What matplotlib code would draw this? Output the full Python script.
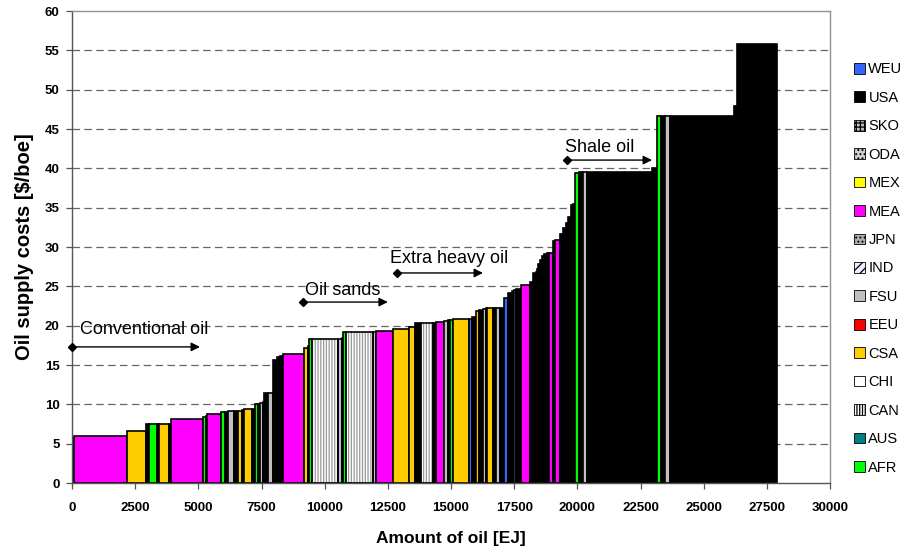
import numpy as np
import matplotlib
matplotlib.use("Agg")
import matplotlib.pyplot as plt
from matplotlib.patches import Patch

plt.rcParams['font.family'] = ['Liberation Sans', 'DejaVu Sans']
plt.rcParams['hatch.linewidth'] = 0.9

# ---------------- data ----------------
regions = ["AFR", "MEA", "CSA", "USA", "AFR", "USA", "CSA", "USA", "MEA", "AFR",
           "USA", "MEA", "USA", "AFR", "USA", "FSU", "USA", "CSA", "USA", "CSA",
           "USA", "AFR", "USA", "FSU", "USA", "USA", "FSU", "USA", "USA", "USA",
           "MEA", "CSA", "USA", "AFR", "CAN", "FSU", "USA", "AFR", "CAN", "FSU",
           "MEA", "CSA", "CSA", "USA", "CAN", "USA", "MEA", "FSU", "USA", "AFR",
           "CSA", "WEU", "USA", "CSA", "USA", "FSU", "USA", "CSA", "USA", "FSU",
           "USA", "WEU", "USA", "USA", "CHI", "USA", "MEA", "USA", "USA", "FSU",
           "USA", "USA", "USA", "USA", "USA", "WEU", "USA", "MEA", "USA", "MEA",
           "USA", "USA", "USA", "USA", "USA", "USA", "AFR", "USA", "FSU", "USA",
           "USA", "AFR", "USA", "FSU", "USA", "USA", "USA"]

amounts = [60, 2105, 750, 145, 315, 55, 420, 70, 1250, 120,
           40, 555, 20, 150, 135, 220, 175, 130, 105, 290,
           135, 130, 65, 115, 45, 145, 225, 130, 150, 115,
           815, 175, 35, 120, 1030, 160, 40, 120, 1040, 150,
           650, 630, 245, 225, 500, 100, 310, 190, 70, 90,
           670, 100, 140, 140, 140, 130, 60, 235, 95, 150,
           180, 170, 150, 90, 60, 190, 370, 130, 100, 60,
           30, 70, 70, 90, 100, 70, 30, 170, 70, 195,
           135, 110, 85, 90, 80, 100, 155, 170, 150, 2550,
           220, 150, 170, 200, 2530, 100, 1590]

costs = [5.7, 6.0, 6.65, 7.45, 7.45, 7.45, 7.45, 7.5, 8.15, 8.35,
         8.5, 8.77, 8.9, 9.0, 9.05, 9.1, 9.15, 9.2, 9.3, 9.36,
         9.45, 10.05, 10.1, 10.2, 10.3, 11.5, 11.5, 15.6, 16.0, 16.2,
         16.45, 17.15, 17.4, 18.3, 18.3, 18.3, 18.4, 19.15, 19.2, 19.2,
         19.36, 19.53, 19.87, 20.3, 20.36, 20.4, 20.5, 20.65, 20.7, 20.75,
         20.8, 20.85, 21.1, 21.9, 22.0, 22.1, 22.2, 22.3, 22.3, 22.3,
         22.3, 23.5, 24.1, 24.45, 24.5, 24.7, 25.2, 25.6, 26.7, 26.8,
         27.2, 27.9, 28.3, 28.85, 29.1, 29.2, 29.2, 29.2, 30.8, 30.9,
         31.7, 32.4, 33.1, 33.85, 35.3, 35.5, 39.4, 39.5, 39.5, 39.5,
         40.1, 46.6, 46.6, 46.6, 46.6, 47.9, 55.8]

legend_labels = ["WEU", "USA", "SKO", "ODA", "MEX", "MEA", "JPN", "IND",
                 "FSU", "EEU", "CSA", "CHI", "CAN", "AUS", "AFR"]

x_ticks = list(range(0, 30001, 2500))
y_ticks = list(range(0, 61, 5))

annotations = [("Conventional oil", 0, 5065, 17.3, 316, 19.45),
               ("Oil sands", 9140, 12500, 23.0, 9220, 24.5),
               ("Extra heavy oil", 12860, 16265, 26.7, 12585, 28.5),
               ("Shale oil", 19590, 22955, 41.05, 19510, 42.6)]

# ---------------- styles ----------------
styles = {
    "WEU": dict(fc="#3366FF", hatch=None),
    "USA": dict(fc="#000000", hatch=None),
    "SKO": dict(fc="#C0C0C0", hatch="++++"),
    "ODA": dict(fc="#D0D0D0", hatch="...."),
    "MEX": dict(fc="#FFFF00", hatch=None),
    "MEA": dict(fc="#FF00FF", hatch=None),
    "JPN": dict(fc="#B0B0B0", hatch="...."),
    "IND": dict(fc="#EEEEFF", hatch="////"),
    "FSU": dict(fc="#C0C0C0", hatch=None),
    "EEU": dict(fc="#FF0000", hatch=None),
    "CSA": dict(fc="#FFCC00", hatch=None),
    "CHI": dict(fc="#FFFFFF", hatch=None),
    "CAN": dict(fc="#FFFFFF", hatch="||||||"),
    "AUS": dict(fc="#008080", hatch=None),
    "AFR": dict(fc="#00FF00", hatch=None),
}

amounts_arr = np.array(amounts, dtype=float)
lefts = np.concatenate([[0.0], np.cumsum(amounts_arr)[:-1]])

fig = plt.figure(figsize=(9.05, 5.49), dpi=100)
ax = fig.add_axes([72/905, 66/549, 758/905, 472/549])

# grid
for yv in y_ticks[1:-1]:
    ax.axhline(yv, color="#666666", lw=0.9, ls=(0, (6, 3.5)), zorder=0)

EDGE_LW = 1.2
for reg, l, w, h in zip(regions, lefts, amounts_arr, costs):
    st = styles[reg]
    if st["hatch"]:
        ax.bar(l, h, width=w, align="edge", color=st["fc"], hatch=st["hatch"],
               edgecolor="#999999", linewidth=0, zorder=2)
        ax.bar(l, h, width=w, align="edge", facecolor="none",
               edgecolor="black", linewidth=EDGE_LW, zorder=3)
    else:
        ax.bar(l, h, width=w, align="edge", color=st["fc"],
               edgecolor="black", linewidth=EDGE_LW, zorder=2)

# annotations
for txt, x0, x1, ya, xt, yt in annotations:
    ax.annotate("", xy=(x1, ya), xytext=(x0, ya),
                arrowprops=dict(arrowstyle="-|>", color="black", lw=1.0,
                                mutation_scale=13, shrinkA=0, shrinkB=0),
                zorder=5)
    ax.plot([x0], [ya], marker="D", color="black", ms=4, zorder=5, clip_on=False)
    ax.text(xt, yt, txt, fontsize=13, va="center", ha="left", zorder=5)

ax.set_xlim(0, 30000)
ax.set_ylim(0, 60)
ax.set_xticks(x_ticks)
ax.set_yticks(y_ticks)
ax.set_xticklabels([str(v) for v in x_ticks], fontsize=9.5, fontweight="bold")
ax.set_yticklabels([str(v) for v in y_ticks], fontsize=9.5, fontweight="bold")
ax.tick_params(axis="both", direction="out", length=4, width=0.9, color="#555555", pad=5)
ax.tick_params(axis="x", pad=10)

for s in ["top", "right"]:
    ax.spines[s].set_color("#909090")
    ax.spines[s].set_linewidth(1.0)
for s in ["left", "bottom"]:
    ax.spines[s].set_color("#555555")
    ax.spines[s].set_linewidth(1.0)

ax.set_xlabel("Amount of oil [EJ]", fontsize=12.5, fontweight="bold", labelpad=12)
ax.set_ylabel("Oil supply costs [$/boe]", fontsize=14.5, fontweight="bold", labelpad=8)

handles = []
for lab in legend_labels:
    st = styles[lab]
    handles.append(Patch(facecolor=st["fc"], edgecolor="black", linewidth=0.6,
                         hatch=st["hatch"]))
fig.legend(handles, legend_labels, loc="upper left", bbox_to_anchor=(0.937, 0.897),
           frameon=False, fontsize=10.5, labelspacing=0.99, handlelength=0.75,
           handleheight=0.75, handletextpad=0.25, borderaxespad=0)

fig.savefig("out.png", dpi=100)
